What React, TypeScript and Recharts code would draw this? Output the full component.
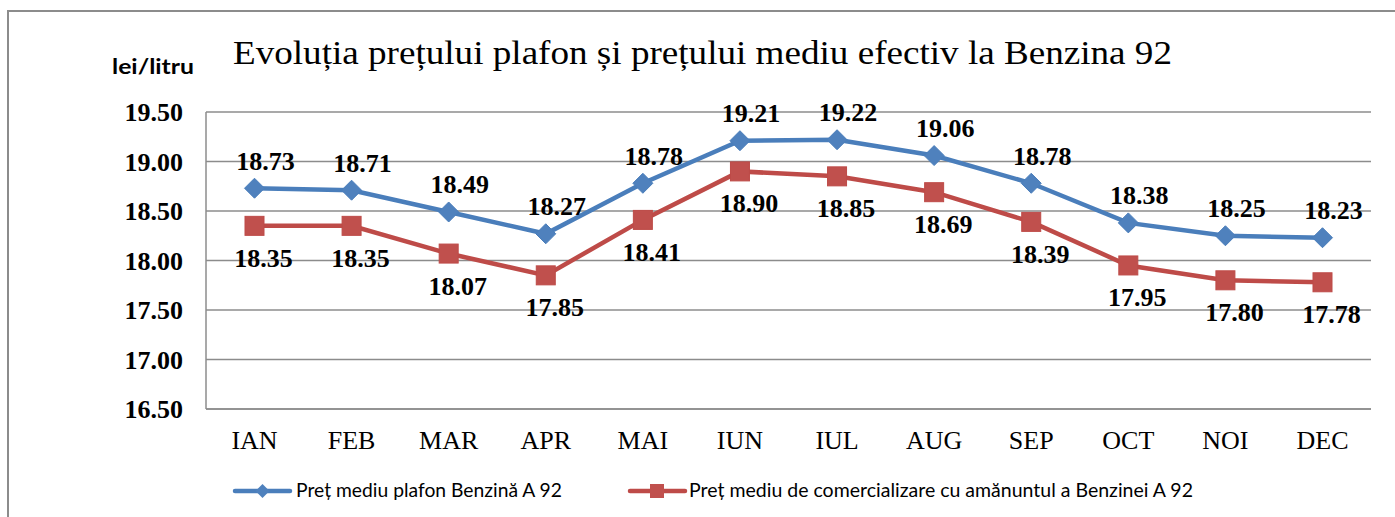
import React from 'react';
import { LineChart, Line, XAxis, YAxis, CartesianGrid, LabelList } from 'recharts';

const months = ['IAN', 'FEB', 'MAR', 'APR', 'MAI', 'IUN', 'IUL', 'AUG', 'SEP', 'OCT', 'NOI', 'DEC'];
const pretPlafon = [18.73, 18.71, 18.49, 18.27, 18.78, 19.21, 19.22, 19.06, 18.78, 18.38, 18.25, 18.23];
const pretComercial = [18.35, 18.35, 18.07, 17.85, 18.41, 18.9, 18.85, 18.69, 18.39, 17.95, 17.8, 17.78];
const yTicks = [16.5, 17, 17.5, 18, 18.5, 19, 19.5];

const titleText = 'Evoluția prețului plafon și prețului mediu efectiv la Benzina 92';
const unitText = 'lei/litru';
const seriesNames = ['Preț mediu plafon Benzină A 92', 'Preț mediu de comercializare cu amănuntul a Benzinei A 92'];

const data = months.map((m, i) => ({ month: m, plafon: pretPlafon[i], comercial: pretComercial[i] }));

const BLUE = '#4A7EBB';
const BLUE_FILL = '#4F81BD';
const RED = '#BE4B48';
const RED_FILL = '#C0504D';
const GRID = '#8c8c8c';
const SERIF = '"Liberation Serif", "Times New Roman", serif';
const SANS = 'Lato, "Liberation Sans", sans-serif';

const labelStyle: React.CSSProperties = { fontFamily: SERIF, fontWeight: 700, fontSize: 26, fill: '#000' };

const Diamond = (props: any) => {
  const { cx, cy } = props;
  if (cx == null || cy == null) return null;
  const r = 10;
  return <path d={`M${cx},${cy - r}L${cx + r},${cy}L${cx},${cy + r}L${cx - r},${cy}Z`} fill={BLUE_FILL} stroke={BLUE} strokeWidth={1} />;
};

const Square = (props: any) => {
  const { cx, cy } = props;
  if (cx == null || cy == null) return null;
  const h = 9.5;
  return <rect x={cx - h} y={cy - h} width={2 * h} height={2 * h} fill={RED_FILL} stroke={RED} strokeWidth={1} />;
};

const TopLabel = (props: any) => {
  const x = props.x ?? props.viewBox?.x;
  const y = props.y ?? props.viewBox?.y;
  if (x == null || y == null) return null;
  return (
    <text x={x + 11} y={y - 18.5} textAnchor="middle" style={labelStyle}>
      {Number(props.value).toFixed(2)}
    </text>
  );
};

const BottomLabel = (props: any) => {
  const x = props.x ?? props.viewBox?.x;
  const y = props.y ?? props.viewBox?.y;
  if (x == null || y == null) return null;
  return (
    <text x={x + 9} y={y + 41} textAnchor="middle" style={labelStyle}>
      {Number(props.value).toFixed(2)}
    </text>
  );
};

export default function App() {
  return (
    <div style={{ position: 'fixed', left: 0, top: 0, width: 1395, height: 517, background: '#fff', overflow: 'hidden' }}>
      <div style={{ position: 'absolute', left: 7, top: 10, width: 1400, height: 520, borderLeft: `2px solid ${GRID}`, borderTop: `2px solid ${GRID}` }} />
      <div style={{ position: 'absolute', left: 0, top: 0 }}>
        <LineChart width={1395} height={517} data={data} margin={{ top: 112, right: 24, left: 0, bottom: 58 }}>
          <CartesianGrid horizontal vertical={false} stroke={GRID} strokeWidth={1.5} />
          <XAxis
            dataKey="month"
            padding={{ left: 48.5, right: 48.5 }}
            tickSize={0}
            tickMargin={22}
            tickLine={false}
            axisLine={{ stroke: GRID, strokeWidth: 1.5 }}
            interval={0}
            height={50}
            tick={{ fill: '#000', fontSize: 26, fontFamily: SERIF }}
          />
          <YAxis
            domain={[16.5, 19.5]}
            ticks={yTicks}
            interval={0}
            width={206}
            tickSize={0}
            tickMargin={23}
            tickLine={false}
            axisLine={{ stroke: GRID, strokeWidth: 1.5 }}
            tickFormatter={(v: number) => v.toFixed(2)}
            tick={{ fill: '#000', fontSize: 26, fontWeight: 700, fontFamily: SERIF }}
            allowDataOverflow
          />
          <Line
            type="linear"
            dataKey="plafon"
            stroke={BLUE}
            strokeWidth={4.5}
            dot={<Diamond />}
            activeDot={false}
            isAnimationActive={false}
          >
            <LabelList dataKey="plafon" content={<TopLabel />} />
          </Line>
          <Line
            type="linear"
            dataKey="comercial"
            stroke={RED}
            strokeWidth={4.5}
            dot={<Square />}
            activeDot={false}
            isAnimationActive={false}
          >
            <LabelList dataKey="comercial" content={<BottomLabel />} />
          </Line>
        </LineChart>
      </div>
      <svg style={{ position: 'absolute', left: 0, top: 0 }} width={1395} height={517}>
        <text x={233} y={64} textLength={939} lengthAdjust="spacingAndGlyphs" style={{ fontFamily: SERIF, fontSize: 33, fill: '#000' }}>{titleText}</text>
        <text x={112} y={74} textLength={82} lengthAdjust="spacingAndGlyphs" style={{ fontFamily: SANS, fontWeight: 700, fontSize: 21, fill: '#000' }}>{unitText}</text>
        <line x1={235} y1={491} x2={290} y2={491} stroke={BLUE} strokeWidth={4.5} strokeLinecap="round" />
        <path d="M262.5,484L269.5,491L262.5,498L255.5,491Z" fill={BLUE_FILL} />
        <text x={296} y={497} textLength={266} lengthAdjust="spacingAndGlyphs" style={{ fontFamily: SANS, fontSize: 19, fill: '#000' }}>{seriesNames[0]}</text>
        <line x1={630} y1={491} x2={685} y2={491} stroke={RED} strokeWidth={4.5} strokeLinecap="round" />
        <rect x={650} y={484} width={14} height={14} fill={RED_FILL} />
        <text x={689} y={497} textLength={504} lengthAdjust="spacingAndGlyphs" style={{ fontFamily: SANS, fontSize: 19, fill: '#000' }}>{seriesNames[1]}</text>
      </svg>
    </div>
  );
}
